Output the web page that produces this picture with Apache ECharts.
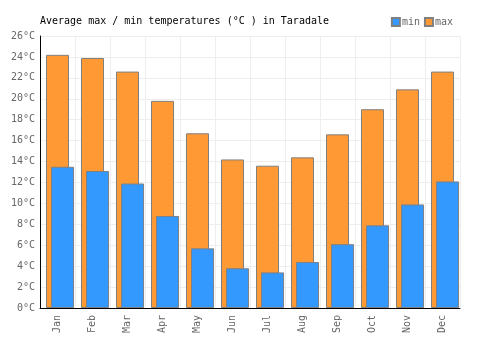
<!DOCTYPE html>
<html>
<head>
<meta charset="utf-8">
<script src="https://cdn.jsdelivr.net/npm/echarts@6/dist/echarts.min.js"></script>
<style>
  html, body { margin: 0; padding: 0; background: #fff; }
  #chart { width: 500px; height: 350px; }
</style>
</head>
<body>
<div id="chart"></div>
<script>
var months = ['Jan', 'Feb', 'Mar', 'Apr', 'May', 'Jun', 'Jul', 'Aug', 'Sep', 'Oct', 'Nov', 'Dec'];
var maxTemps = [24.2, 23.9, 22.6, 19.8, 16.7, 14.2, 13.6, 14.4, 16.6, 19.0, 20.9, 22.6];
var minTemps = [13.5, 13.1, 11.9, 8.8, 5.7, 3.8, 3.4, 4.4, 6.1, 7.9, 9.9, 12.1];

var myChart = echarts.init(document.getElementById('chart'));
var font = 'DejaVu Sans Mono';
var option = {
  animation: false,
  title: {
    text: 'Average max / min temperatures (°C ) in Taradale',
    left: 35,
    top: 11,
    textStyle: { fontFamily: font, fontSize: 10, fontWeight: 'normal', color: '#000' }
  },
  legend: {
    data: ['min', 'max'],
    right: 42,
    top: 12,
    itemWidth: 8,
    itemHeight: 8,
    itemGap: 4,
    icon: 'rect',
    textStyle: { fontFamily: font, fontSize: 10, color: '#666', padding: [0, 0, 0, -3] }
  },
  grid: { left: 40, right: 40, top: 36, bottom: 42 },
  xAxis: {
    type: 'category',
    data: months,
    axisLine: { lineStyle: { color: '#000' } },
    axisTick: { show: false },
    splitLine: { show: true, lineStyle: { color: '#eee' } },
    axisLabel: { rotate: 90, color: '#666', fontFamily: font, fontSize: 10, margin: 7 }
  },
  yAxis: {
    type: 'value',
    min: 0,
    max: 26,
    interval: 2,
    axisLine: { show: true, lineStyle: { color: '#000' } },
    axisTick: { show: false },
    splitLine: { lineStyle: { color: '#eee' } },
    axisLabel: { color: '#666', fontFamily: font, fontSize: 10, margin: 5, formatter: '{value}°C' }
  },
  series: [
    {
      name: 'pad',
      type: 'bar',
      data: [],
      barWidth: 23,
      barGap: '-78%'
    },
    {
      name: 'max',
      type: 'bar',
      data: maxTemps,
      barWidth: 23,
      barGap: '-78%',
      itemStyle: { color: '#ff9933', borderColor: '#808080', borderWidth: 1 }
    },
    {
      name: 'min',
      type: 'bar',
      data: minTemps,
      barWidth: 23,
      barGap: '-78%',
      itemStyle: { color: '#3399ff', borderColor: '#808080', borderWidth: 1 }
    }
  ]
};
myChart.setOption(option);
</script>
</body>
</html>
